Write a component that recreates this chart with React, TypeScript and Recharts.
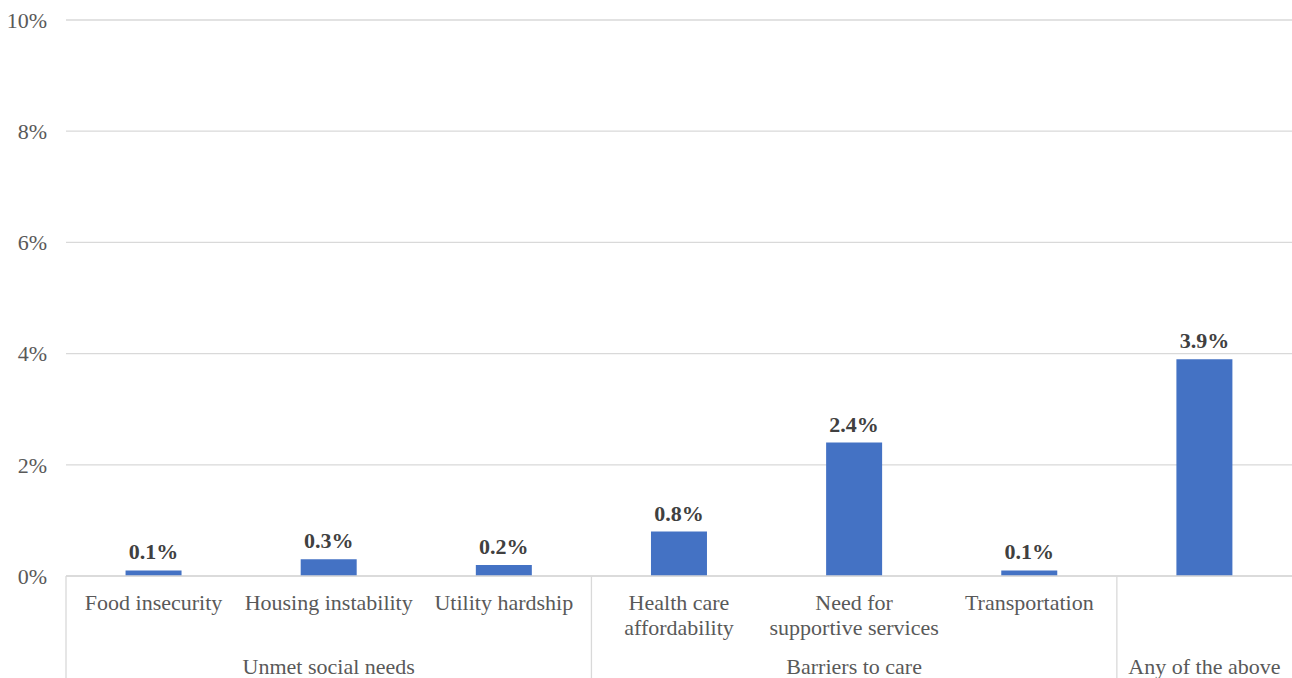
import { BarChart, Bar, XAxis, YAxis, CartesianGrid, LabelList } from "recharts";

const categories = [
  "Food insecurity",
  "Housing instability",
  "Utility hardship",
  "Health care\naffordability",
  "Need for\nsupportive services",
  "Transportation",
  "",
];
const groups = ["Unmet social needs", "Barriers to care", "Any of the above"];
// which category index each group label sits under, and where groups start
const groupCenters = [1, 4, 6];
const groupStarts = [0, 3, 6];
const values = [0.1, 0.3, 0.2, 0.8, 2.4, 0.1, 3.9];
const yTicks = [0, 2, 4, 6, 8, 10];

const data = categories.map((name, i) => ({ name, value: values[i] }));

const FONT = "'Liberation Serif', 'Times New Roman', serif";
const TEXT = "#595959";
const LINE = "#D9D9D9";
const txt = { fontFamily: FONT, fontSize: 22 };

function CategoryTick(props: any) {
  const { x, y, payload, index } = props;
  const half = payload.offset ?? 87.6;
  const lines = String(payload.value).split("\n").filter((s) => s !== "");
  const g = groupCenters.indexOf(index);
  const isStart = groupStarts.includes(index);
  return (
    <g>
      {lines.map((l, i) => (
        <text key={i} x={x} y={y + 34 + i * 25} textAnchor="middle" fill={TEXT} style={txt}>
          {l}
        </text>
      ))}
      {g >= 0 && (
        <text x={x} y={y + 98} textAnchor="middle" fill={TEXT} style={txt}>
          {groups[g]}
        </text>
      )}
      {isStart && <line x1={x - half} x2={x - half} y1={y} y2={y + 110} stroke={LINE} strokeWidth={1.3} />}
    </g>
  );
}

export default function App() {
  return (
    <div style={{ position: "absolute", left: 0, top: 0, width: 1292, height: 678, background: "#fff", overflow: "hidden" }}>
      <BarChart width={1292} height={678} data={data} margin={{ top: 20, right: 0, left: 0, bottom: 0 }} barCategoryGap="34%">
        <CartesianGrid vertical={false} stroke={LINE} strokeWidth={1.3} />
        <XAxis
          dataKey="name"
          interval={0}
          height={102}
          tickLine={false}
          tickSize={0}
          tickMargin={0}
          axisLine={{ stroke: LINE, strokeWidth: 1.3 }}
          tick={<CategoryTick />}
        />
        <YAxis
          domain={[0, 10]}
          ticks={yTicks}
          width={66}
          axisLine={false}
          tickLine={false}
          tickSize={0}
          tickMargin={19}
          tickFormatter={(v) => `${v}%`}
          tick={{ fill: TEXT, fontSize: 22, style: { fontFamily: FONT } }}
        />
        <Bar dataKey="value" fill="#4472C4" isAnimationActive={false}>
          <LabelList
            dataKey="value"
            position="top"
            offset={11}
            formatter={(v: any) => `${Number(v).toFixed(1)}%`}
            style={{ fill: "#404040", fontSize: 22, fontWeight: "bold", fontFamily: FONT }}
          />
        </Bar>
      </BarChart>
    </div>
  );
}
